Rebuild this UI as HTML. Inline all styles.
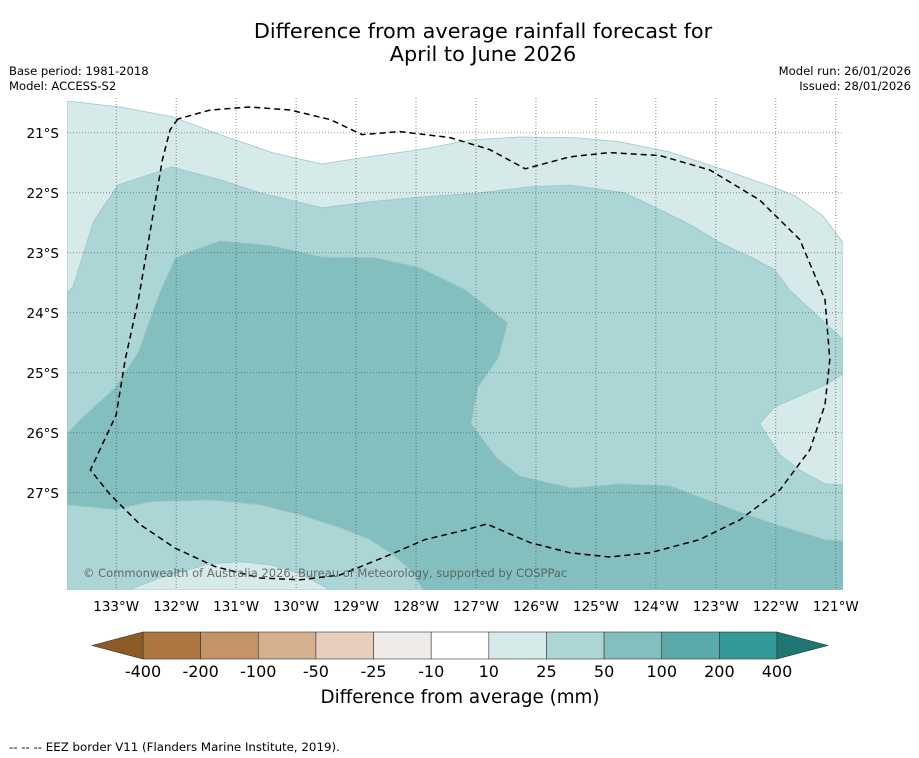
<!DOCTYPE html>
<html><head><meta charset="utf-8"><style>
html,body{margin:0;padding:0;background:#fff;}
svg{display:block;font-family:"DejaVu Sans","Liberation Sans",sans-serif;}
</style></head><body>
<svg id="chart" width="919" height="758" viewBox="0 0 919 758" xmlns="http://www.w3.org/2000/svg">
<rect width="919" height="758" fill="#fff"/>
<text x="483" y="38" font-size="20.8" text-anchor="middle" fill="#000">Difference from average rainfall forecast for</text>
<text x="483" y="61" font-size="20.8" text-anchor="middle" fill="#000">April to June 2026</text>
<text x="9" y="75" font-size="11.6">Base period: 1981-2018</text>
<text x="9" y="90" font-size="11.6">Model: ACCESS-S2</text>
<text x="911" y="75" font-size="11.6" text-anchor="end">Model run: 26/01/2026</text>
<text x="911" y="90" font-size="11.6" text-anchor="end">Issued: 28/01/2026</text>
<defs><clipPath id="mapclip"><rect x="67" y="98" width="776" height="492"/></clipPath></defs>
<g id="map" clip-path="url(#mapclip)"></g>
<g id="grid"></g>
<g id="eez"></g>
<text x="83" y="577" font-size="11.5" fill="#555" fill-opacity="0.85">© Commonwealth of Australia 2026, Bureau of Meteorology, supported by COSPPac</text>
<g id="xticks"></g>
<g id="yticks"></g>
<g id="cbar"></g>
<text x="460" y="703" font-size="18.3" text-anchor="middle">Difference from average (mm)</text>
<text x="9" y="751" font-size="11.8">--  --  -- EEZ border V11 (Flanders Marine Institute, 2019).</text>
</svg>
<script>
// ---- data ----
const lonTicks = [-133,-132,-131,-130,-129,-128,-127,-126,-125,-124,-123,-122,-121];
const latTicks = [-21,-22,-23,-24,-25,-26,-27];
const cbarLabels = ["-400","-200","-100","-50","-25","-10","10","25","50","100","200","400"];
const cbarColors = ["#ad7640","#c29467","#d5b08f","#e6d0bd","#efebe8","#ffffff","#d6eaea","#acd6d6","#84bfbf","#5aaaaa","#339999"];
const lowColor = "#8e5a26", highColor = "#207575";
// contour polygons in [lon, lat]
const band10_25 = [[-133.82,-20.47],[-132.93,-20.57],[-132.07,-20.73],[-131.27,-21.03],[-130.4,-21.33],[-129.57,-21.52],[-128.93,-21.42],[-127.93,-21.28],[-127.1,-21.12],[-126.27,-21.07],[-125.35,-21.08],[-124.6,-21.15],[-123.77,-21.32],[-122.77,-21.65],[-122,-21.92],[-121.68,-22.05],[-121.22,-22.38],[-120.88,-22.83],[-120.88,-28.62],[-133.82,-28.62]];
const band25_50 = [[-133.82,-23.67],[-133.72,-23.57],[-133.38,-22.48],[-132.97,-21.87],[-132.07,-21.57],[-131.27,-21.78],[-130.6,-22],[-129.57,-22.25],[-128.77,-22.15],[-127.93,-22.07],[-126.93,-22],[-126.1,-21.9],[-125.43,-21.87],[-124.52,-22],[-123.93,-22.28],[-123.43,-22.53],[-122.93,-22.83],[-122.4,-23.08],[-122.02,-23.28],[-121.77,-23.62],[-121.27,-24.08],[-120.88,-24.45],[-120.88,-28.62],[-133.82,-28.62]];
const pocketEast = [[-120.88,-25.02],[-121.17,-25.2],[-121.68,-25.42],[-122.02,-25.57],[-122.27,-25.85],[-121.93,-26.37],[-121.6,-26.62],[-121.18,-26.85],[-120.88,-26.87]];
const pocketSouth = [[-132.8,-28.62],[-132.27,-28.42],[-131.43,-28.18],[-130.93,-28.15],[-130.43,-28.2],[-129.93,-28.35],[-129.43,-28.62]];
const band50_100 = [[-133.82,-26.02],[-133.6,-25.78],[-133.02,-25.25],[-132.63,-24.65],[-132.27,-23.65],[-132.02,-23.1],[-131.77,-22.98],[-131.27,-22.8],[-130.4,-22.88],[-129.57,-23.07],[-128.68,-23.08],[-127.93,-23.25],[-127.17,-23.62],[-126.47,-24.17],[-126.63,-24.75],[-126.97,-25.25],[-127.08,-25.85],[-126.65,-26.42],[-126.27,-26.72],[-125.4,-26.92],[-124.6,-26.85],[-123.77,-26.88],[-123.27,-27.07],[-122.6,-27.32],[-122.02,-27.52],[-121.18,-27.78],[-120.88,-27.8],[-120.88,-28.62],[-127.88,-28.62],[-128.1,-28.28],[-128.43,-28],[-128.77,-27.78],[-129.27,-27.58],[-129.93,-27.37],[-130.6,-27.2],[-131.43,-27.12],[-132.43,-27.15],[-133.02,-27.28],[-133.82,-27.2]];
const eezLon = [-131.97,-132.1,-132.23,-132.43,-132.63,-132.85,-133,-133.43,-133.1,-132.6,-132.02,-131.35,-130.6,-129.93,-129.27,-128.43,-127.85,-127.18,-126.82,-126.1,-125.43,-124.77,-124.1,-123.27,-122.6,-121.93,-121.43,-121.18,-121.1,-121.18,-121.6,-122.27,-123.1,-123.93,-124.77,-125.43,-126.18,-126.77,-127.43,-128.27,-128.9,-129.43,-130.1,-130.77,-131.43,-131.97];
const eezLat = [-20.77,-20.95,-21.45,-22.62,-23.78,-24.78,-25.7,-26.62,-27.03,-27.53,-27.92,-28.23,-28.42,-28.45,-28.37,-28.03,-27.78,-27.62,-27.52,-27.83,-28,-28.07,-28,-27.78,-27.45,-26.95,-26.28,-25.53,-24.78,-23.78,-22.78,-22.12,-21.62,-21.38,-21.33,-21.4,-21.6,-21.28,-21.08,-20.98,-21.03,-20.78,-20.62,-20.57,-20.62,-20.77];
// ---- axes ----
const X0=67,X1=843,Y0=98,Y1=590, LON0=-133.82,LON1=-120.88, LAT0=-20.42,LAT1=-28.62;
const xs = lon => X0+(lon-LON0)/(LON1-LON0)*(X1-X0);
const ys = lat => Y0+(lat-LAT0)/(LAT1-LAT0)*(Y1-Y0);
const NS='http://www.w3.org/2000/svg';
function mk(tag,parent){const e=document.createElementNS(NS,tag);parent.appendChild(e);return e;}
const map=document.getElementById('map');
const bg=mk('rect',map);bg.setAttribute('x',X0);bg.setAttribute('y',Y0);bg.setAttribute('width',X1-X0);bg.setAttribute('height',Y1-Y0);bg.setAttribute('fill','#ffffff');


function poly(pts,fill,name){const p=mk('polygon',map);p.setAttribute('points',pts.map(d=>xs(d[0]).toFixed(1)+','+ys(d[1]).toFixed(1)).join(' '));p.setAttribute('fill',fill);p.setAttribute('stroke','#9fc7c7');p.setAttribute('stroke-width','0.8');

}
poly(band10_25,cbarColors[6],'contour-10-25');
poly(band25_50,cbarColors[7],'contour-25-50');
poly(pocketEast,cbarColors[6],'contour-10-25-east');
poly(pocketSouth,cbarColors[6],'contour-10-25-south');
poly(band50_100,cbarColors[8],'contour-50-100');
// grid
const grid=document.getElementById('grid');
lonTicks.forEach(l=>{const ln=mk('line',grid);ln.setAttribute('x1',xs(l));ln.setAttribute('x2',xs(l));ln.setAttribute('y1',Y0);ln.setAttribute('y2',Y1);ln.setAttribute('stroke','#555');ln.setAttribute('stroke-width','0.7');ln.setAttribute('stroke-dasharray','1,2');


const t=mk('text',document.getElementById('xticks'));t.setAttribute('x',xs(l));t.setAttribute('y',611);t.setAttribute('font-size','13.5');t.setAttribute('text-anchor','middle');t.textContent=Math.abs(l)+'°W';

});
latTicks.forEach(l=>{const ln=mk('line',grid);ln.setAttribute('x1',X0);ln.setAttribute('x2',X1);ln.setAttribute('y1',ys(l));ln.setAttribute('y2',ys(l));ln.setAttribute('stroke','#555');ln.setAttribute('stroke-width','0.7');ln.setAttribute('stroke-dasharray','1,2');


const t=mk('text',document.getElementById('yticks'));t.setAttribute('x',59);t.setAttribute('y',ys(l)+5);t.setAttribute('font-size','13.5');t.setAttribute('text-anchor','end');t.textContent=Math.abs(l)+'°S';

});
// eez
const eez=mk('polyline',document.getElementById('eez'));
eez.setAttribute('points',eezLon.map((l,i)=>xs(l).toFixed(1)+','+ys(eezLat[i]).toFixed(1)).join(' '));
eez.setAttribute('fill','none');eez.setAttribute('stroke','#000');eez.setAttribute('stroke-width','1.5');eez.setAttribute('stroke-dasharray','6,4');


// colorbar
const cb=document.getElementById('cbar');const CX0=143,CX1=777,CY=632,CH=27;const bw=(CX1-CX0)/cbarColors.length;
cbarColors.forEach((c,i)=>{const r=mk('rect',cb);r.setAttribute('x',CX0+i*bw);r.setAttribute('y',CY);r.setAttribute('width',bw);r.setAttribute('height',CH);r.setAttribute('fill',c);r.setAttribute('stroke','#333');r.setAttribute('stroke-width','0.6');

});
const tl=mk('polygon',cb);tl.setAttribute('points',`${CX0},${CY} ${CX0},${CY+CH} 92,${CY+CH/2}`);tl.setAttribute('fill',lowColor);tl.setAttribute('stroke','#333');tl.setAttribute('stroke-width','0.6');


const th=mk('polygon',cb);th.setAttribute('points',`${CX1},${CY} ${CX1},${CY+CH} 828,${CY+CH/2}`);th.setAttribute('fill',highColor);th.setAttribute('stroke','#333');th.setAttribute('stroke-width','0.6');


cbarLabels.forEach((s,i)=>{const t=mk('text',cb);t.setAttribute('x',CX0+i*bw);t.setAttribute('y',677);t.setAttribute('font-size','16');t.setAttribute('text-anchor','middle');t.textContent=s;

});
</script>
</body></html>
